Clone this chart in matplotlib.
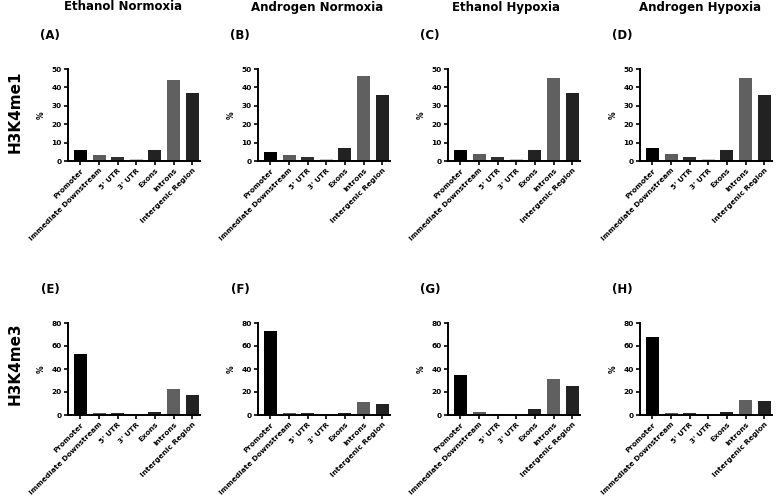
import numpy as np
import matplotlib
matplotlib.use('Agg')
import matplotlib.pyplot as plt

categories = ["Promoter", "Immediate Downstream", "5' UTR", "3' UTR", "Exons", "Introns", "Intergenic Region"]
conditions = ["Ethanol Normoxia", "Androgen Normoxia", "Ethanol Hypoxia", "Androgen Hypoxia"]
marks = ["H3K4me1", "H3K4me3"]
panel_tags = [["(A)", "(B)", "(C)", "(D)"], ["(E)", "(F)", "(G)", "(H)"]]

# % of peaks per genomic region
me1_eth_norm = [6, 3, 2, 1, 6, 44, 37]
me1_and_norm = [5, 3, 2, 1, 7, 46, 36]
me1_eth_hyp = [6, 4, 2, 1, 6, 45, 37]
me1_and_hyp = [7, 4, 2, 1, 6, 45, 36]
me3_eth_norm = [53, 2, 2, 1, 3, 23, 17]
me3_and_norm = [73, 2, 2, 0.5, 2, 11, 10]
me3_eth_hyp = [35, 3, 1, 1, 5, 31, 25]
me3_and_hyp = [68, 2, 2, 1, 3, 13, 12]

rows = [[me1_eth_norm, me1_and_norm, me1_eth_hyp, me1_and_hyp],
        [me3_eth_norm, me3_and_norm, me3_eth_hyp, me3_and_hyp]]
ymax = [50, 80]
ystep = [10, 20]

bar_colors = ['#000000', '#5c5c5c', '#303030', '#c4c4c4', '#222222', '#606060', '#222222']

W, H = 778, 496
fig = plt.figure(figsize=(W / 100, H / 100), dpi=100)

lefts = [68, 258, 448, 640]
bottoms = [161, 415]
ax_w = 132
ax_h = 92

x = np.arange(len(categories))

for r in range(2):
    for c in range(4):
        ax = fig.add_axes([lefts[c] / W, (H - bottoms[r]) / H, ax_w / W, ax_h / H])
        ax.bar(x, rows[r][c], width=0.7, color=bar_colors, edgecolor='none')
        ax.set_xlim(-0.67, 6.42)
        ax.set_ylim(0, ymax[r])
        ax.set_yticks(np.arange(0, ymax[r] + 1, ystep[r]))
        ax.set_xticks(x)
        ax.set_xticklabels(categories, rotation=45, ha='right', rotation_mode='anchor',
                           fontsize=5.3, fontweight='bold')
        for lab in ax.get_yticklabels():
            lab.set_fontsize(5.3)
            lab.set_fontweight('bold')
        for s in ['top', 'right']:
            ax.spines[s].set_visible(False)
        for s in ['left', 'bottom']:
            ax.spines[s].set_linewidth(1.4)
        ax.tick_params(axis='both', width=1.2, length=3, pad=1.5)
        ax.set_ylabel("%", fontsize=5.5, fontweight='bold', labelpad=4)
        fig.text((lefts[c] - 18) / W, (H - (bottoms[r] - 126)) / H, panel_tags[r][c],
                 fontsize=8.5, fontweight='bold', ha='center', va='center')

title_x = [123, 317, 506, 700]
for c in range(4):
    fig.text(title_x[c] / W, 1 - 7 / H, conditions[c], fontsize=8.5, fontweight='bold',
             ha='center', va='center')

row_y = [112, 364]
for r in range(2):
    fig.text(15 / W, 1 - row_y[r] / H, marks[r], fontsize=11, fontweight='bold',
             rotation=90, ha='center', va='center')

fig.savefig("out.png", dpi=100)
